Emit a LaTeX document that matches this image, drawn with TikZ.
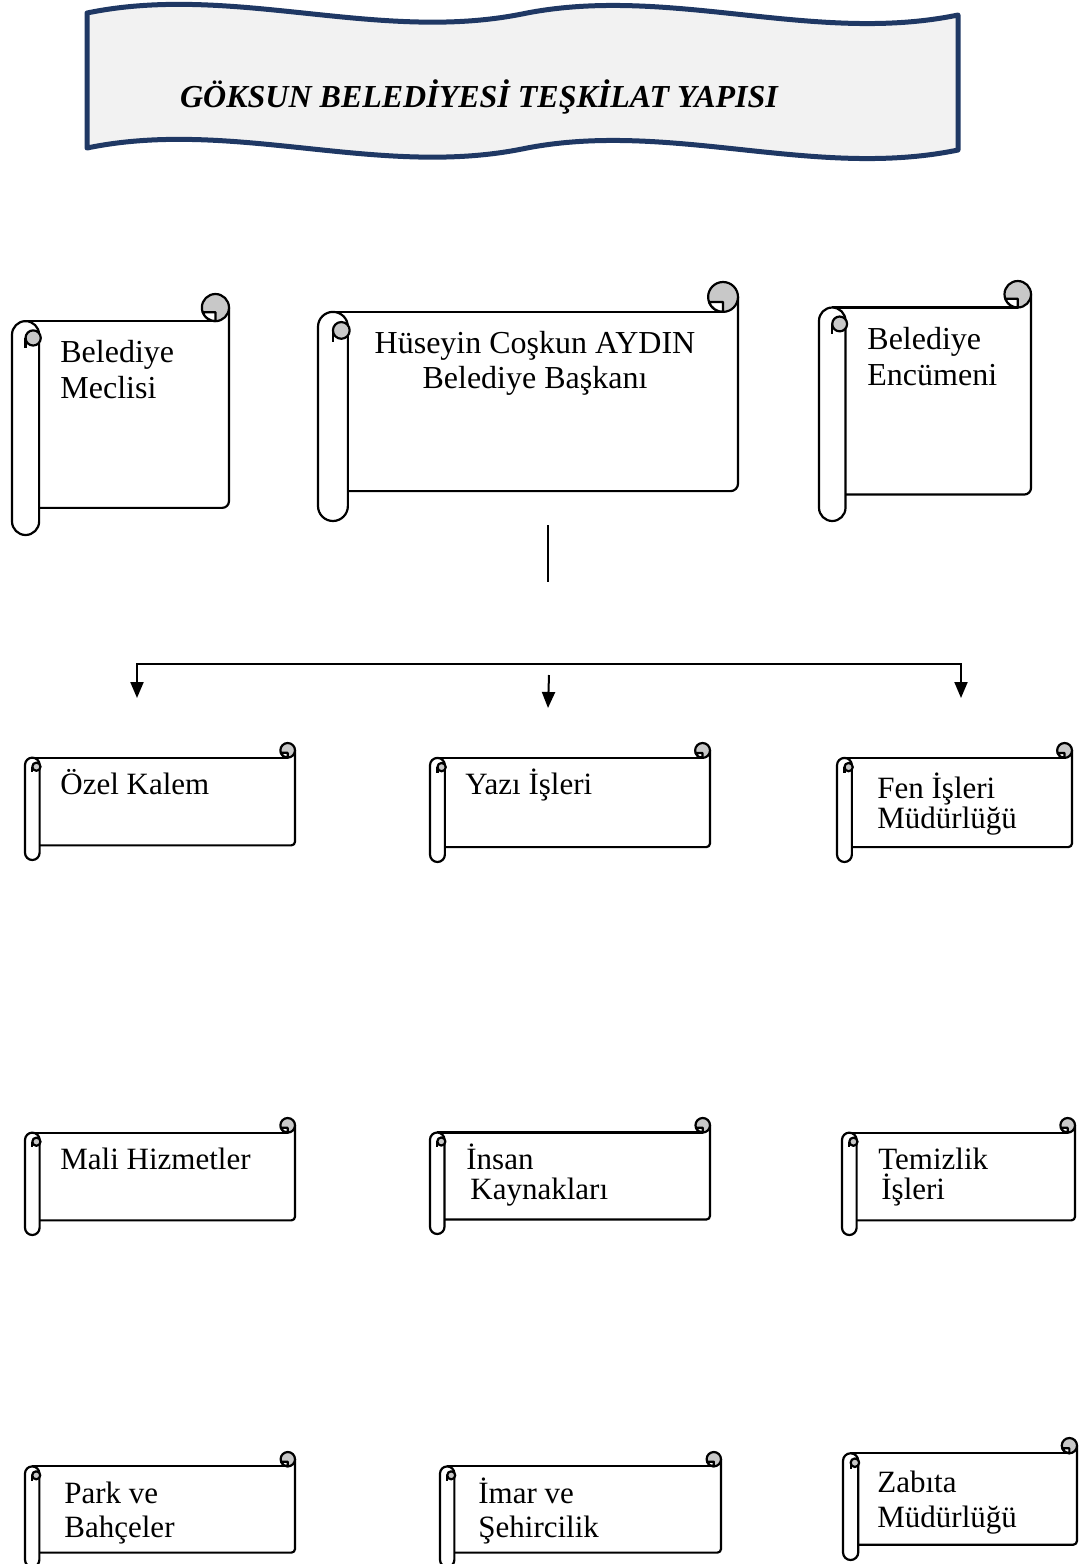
\documentclass[tikz,border=0pt]{standalone}
\usepackage{fontspec}
\setmainfont{Liberation Serif}
\usetikzlibrary{arrows.meta}
\definecolor{rollgray}{RGB}{200,200,200}
\definecolor{bannerfill}{RGB}{242,242,242}
\definecolor{bannerblue}{RGB}{31,56,100}
\tikzset{
  scrollline/.style={draw=black,line width=1.1pt,line join=round},
  conn/.style={draw=black,line width=1pt},
  thinconn/.style={draw=black,line width=0.7pt},
  tip/.style={-{Triangle[length=8pt,width=6.5pt]}},
  banner/.style={draw=bannerblue,fill=bannerfill,line width=2.5pt,line join=round},
  label/.style={anchor=base west,inner sep=0pt,text=black},
}
% scroll shape: name, L, T, R, B in pixel coordinates (y downwards)
\newcommand\scrollbox[5]{%
  \pgfmathsetmacro\sL{#2}\pgfmathsetmacro\sR{#4}%
  \pgfmathsetmacro\sT{-#3}\pgfmathsetmacro\sB{-#5}%
  \pgfmathsetmacro\sc{0.125*min(#4-#2,#5-#3)}%
  \pgfmathsetmacro\sh{\sc/2}\pgfmathsetmacro\sq{\sc/4}%
  \fill[white] (\sL+\sh,\sT-\sc) rectangle (\sR,\sB+\sc);
  \coordinate (#1) at ({(\sL+\sR)/2},{(\sT+\sB)/2});
  \draw[scrollline] (\sL+\sh,\sT-\sc) -- (\sR-\sh,\sT-\sc);
  \draw[scrollline] (\sR,\sT-\sh) -- (\sR,\sB+\sc+\sq)
     arc[start angle=0,end angle=-90,radius=\sq] -- (\sL+\sc,\sB+\sc);
  \draw[scrollline,fill=rollgray] (\sR-\sh,\sT-\sh) circle[radius=\sh];
  \draw[scrollline,fill=white] (\sR-\sh,\sT-\sc) -- (\sR-\sh,\sT-0.671*\sc)
     -- (\sR-0.97*\sc,\sT-0.671*\sc) arc[start angle=200,end angle=270,radius=\sh] -- cycle;
  \draw[scrollline,fill=white] (\sL,\sT-1.5*\sc) arc[start angle=180,end angle=0,radius=\sh]
     -- (\sL+\sc,\sB+\sh) arc[start angle=0,end angle=-180,radius=\sh] -- cycle;
  \draw[scrollline,fill=rollgray] (\sL+0.78*\sc,\sT-1.62*\sc) circle[radius=0.28*\sc];
  \draw[scrollline] (\sL+\sh,\sT-1.62*\sc) -- (\sL+\sh,\sT-2*\sc);
}
% text: name, x, baseline y, font size, line skip, text
\newcommand\scrolltext[6]{%
  \node[label] (#1) at (#2,-#3)
    {\parbox[t]{170pt}{\raggedright\fontsize{#4}{#5}\selectfont #6}};
}
\begin{document}
\begin{tikzpicture}[x=0.5pt,y=0.5pt]
\useasboundingbox (0,0) rectangle (1080,-1564);

% banner
\draw[banner] (87,-13) .. controls (232,17) and (377,-43) .. (522,-14)
   .. controls (668,16) and (813,-45) .. (958,-15)
   -- (958,-150) .. controls (813,-180) and (668,-119) .. (522,-149)
   .. controls (377,-178) and (232,-118) .. (87,-148) -- cycle;
\node[font=\bfseries\itshape\fontsize{16}{19}\selectfont,inner sep=0pt] (title) at (479,-97)
   {GÖKSUN BELEDİYESİ TEŞKİLAT YAPISI};

% top scrolls
\scrollbox{meclis}{12}{294}{229}{535}
\scrollbox{baskan}{318}{282}{738}{521}
\scrollbox{encumen}{819}{281}{1031}{521}
\scrolltext{meclis-t}{60}{362}{16}{18}{Belediye\\Meclisi}
\node[anchor=base,inner sep=0pt] (baskan-t) at (535,-353)
   {\parbox[t]{300pt}{\centering\fontsize{16}{17.5}\selectfont Hüseyin Coşkun AYDIN\\Belediye Başkanı}};
\scrolltext{encumen-t}{867}{349}{16}{18}{Belediye\\Encümeni}

% connectors
\coordinate (v1) at (548,-525);
\coordinate (v2) at (548,-582);
\draw[thinconn] (v1) -- (v2);
\coordinate (hl) at (137,-664);
\coordinate (hr) at (961,-664);
\coordinate (al) at (137,-698);
\coordinate (ar) at (961,-698);
\draw[conn,{Triangle[length=8pt,width=6.5pt]}-{Triangle[length=8pt,width=6.5pt]}]
   (al) -- (hl) -- (hr) -- (ar);
\coordinate (c1) at (549,-675);
\coordinate (c2) at (548,-708);
\draw[conn,tip] (c1) -- (c2);

% row 2
\scrollbox{ozel}{25}{743}{295}{860}
\scrollbox{yazi}{430}{743}{710}{862}
\scrollbox{fen}{837}{743}{1072}{862}
\scrolltext{ozel-t}{60}{794}{15.5}{15}{Özel Kalem}
\scrolltext{yazi-t}{465}{794}{15.5}{15}{Yazı İşleri}
\scrolltext{fen-t}{877}{798}{15.5}{15}{Fen İşleri\\Müdürlüğü}

% row 3
\scrollbox{mali}{25}{1118}{295}{1235}
\scrollbox{insan}{430}{1118}{710}{1234}
\scrollbox{temizlik}{842}{1118}{1075}{1235}
\scrolltext{mali-t}{60}{1169}{15.5}{15}{Mali Hizmetler}
\scrolltext{insan-t}{466}{1169}{15.5}{15}{İnsan\\\hspace*{2pt}Kaynakları}
\scrolltext{temizlik-t}{878}{1169}{15.5}{15}{Temizlik\\\hspace*{1.5pt}İşleri}

% row 4
\scrollbox{park}{25}{1452}{295}{1567}
\scrollbox{imar}{440}{1452}{721}{1567}
\scrollbox{zabita}{843}{1438}{1077}{1560}
\scrolltext{park-t}{64}{1503}{15.5}{17}{Park ve\\Bahçeler}
\scrolltext{imar-t}{478}{1503}{15.5}{17}{İmar ve\\Şehircilik}
\scrolltext{zabita-t}{877}{1492}{15.5}{17.5}{Zabıta\\Müdürlüğü}
\end{tikzpicture}
\end{document}
